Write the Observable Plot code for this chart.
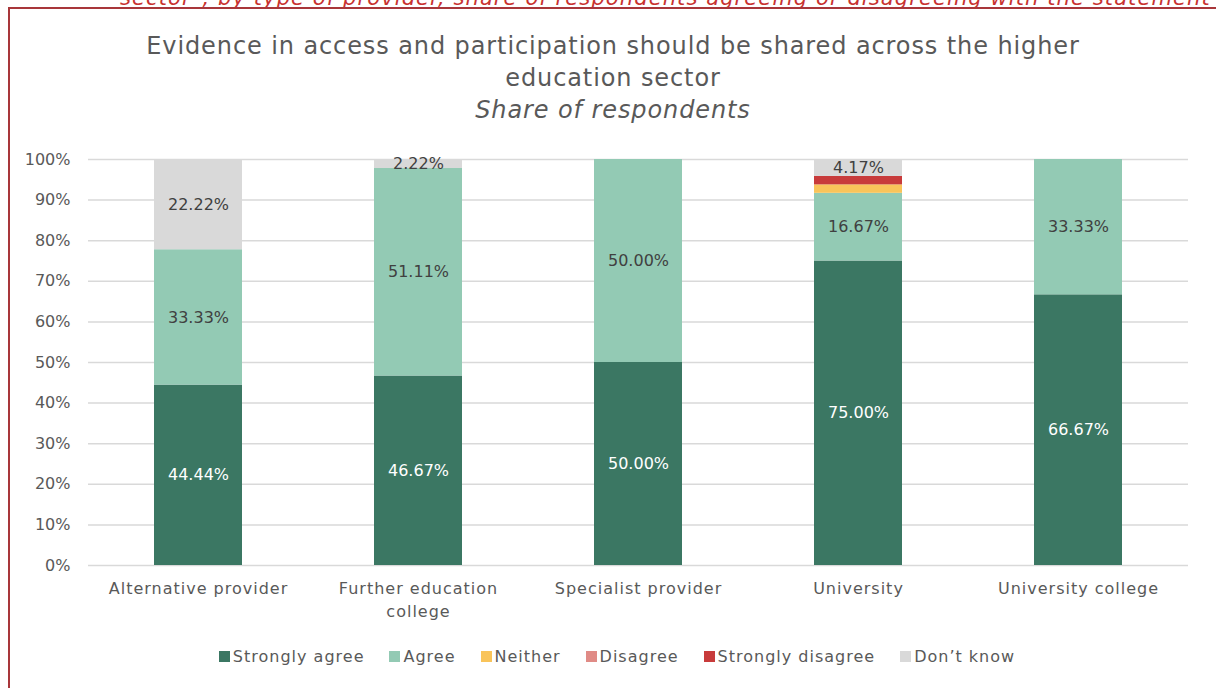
<!DOCTYPE html>
<html>
<head>
<meta charset="utf-8">
<script src="https://cdn.jsdelivr.net/npm/d3@7"></script>
<script src="https://cdn.jsdelivr.net/npm/@observablehq/plot@0.6"></script>
<style>
  html, body { margin: 0; padding: 0; background: #fff; }
  body { width: 1216px; height: 688px; position: relative; overflow: hidden; font-family: "DejaVu Sans", sans-serif; }
  #redtext { position: absolute; left: 120px; top: -14px; width: 1100px; white-space: nowrap; font-style: italic; font-size: 21px; letter-spacing: 1.1px; color: #c8322f; }
  #box { position: absolute; left: 8px; top: 7px; width: 1300px; height: 800px; border-left: 2px solid #a8363a; border-top: 2px solid #a8363a; }
  #title { position: absolute; left: 0; width: 1226px; top: 30px; text-align: center; color: #595959; font-size: 24px; letter-spacing: 0.9px; line-height: 32px; }
  #title .sub { font-style: italic; }
  #chart { position: absolute; left: 0; top: 140px; }
  #chart g[aria-label="x-axis tick label"] text { letter-spacing: 1px; }
  #legend { position: absolute; left: 0; width: 1234px; top: 647px; text-align: center; color: #595959; font-size: 16px; letter-spacing: 1px; white-space: nowrap; }
  #legend span.item { display: inline-block; margin: 0 12.5px; }
  #legend span.sw { display: inline-block; width: 11px; height: 11px; margin-right: 3px; vertical-align: 0px; }
</style>
</head>
<body>
<div id="redtext">sector", by type of provider, share of respondents agreeing or disagreeing with the statement</div>
<div id="box"></div>
<div id="title">Evidence in access and participation should be shared across the higher<br>education sector<br><span class="sub">Share of respondents</span></div>
<div id="chart"></div>
<div id="legend"></div>
<script>
const categories = ["Alternative provider", "Further education college", "Specialist provider", "University", "University college"];
const tickLabels = ["Alternative provider", "Further education\ncollege", "Specialist provider", "University", "University college"];
const seriesNames = ["Strongly agree", "Agree", "Neither", "Disagree", "Strongly disagree", "Don\u2019t know"];
const seriesColors = ["#3b7763", "#93cab4", "#f9c45a", "#e08b86", "#c83b3b", "#d9d9d9"];
const stronglyAgree = [44.44, 46.67, 50.00, 75.00, 66.67];
const agree = [33.33, 51.11, 50.00, 16.67, 33.33];
const neither = [0, 0, 0, 2.08, 0];
const disagree = [0, 0, 0, 0, 0];
const stronglyDisagree = [0, 0, 0, 2.08, 0];
const dontKnow = [22.22, 2.22, 0, 4.17, 0];
const yTicks = [0, 10, 20, 30, 40, 50, 60, 70, 80, 90, 100];

const seriesValues = [stronglyAgree, agree, neither, disagree, stronglyDisagree, dontKnow];
const labelled = new Set(["Strongly agree", "Agree", "Don\u2019t know"]);
const data = [];
seriesNames.forEach((s, si) => {
  categories.forEach((c, ci) => {
    data.push({category: c, series: s, value: seriesValues[si][ci]});
  });
});
const tickMap = new Map(categories.map((c, i) => [c, tickLabels[i]]));

const chart = Plot.plot({
  width: 1216,
  height: 485,
  marginLeft: 88,
  marginRight: 28,
  marginTop: 19,
  marginBottom: 60,
  style: {fontFamily: "DejaVu Sans, sans-serif", fontSize: "16px", color: "#595959", background: "transparent"},
  x: {domain: categories, paddingInner: 0.6, paddingOuter: 0.3, label: null},
  y: {domain: [0, 100], label: null},
  color: {domain: seriesNames, range: seriesColors},
  marks: [
    Plot.ruleY(yTicks, {stroke: "#d9d9d9", strokeWidth: 1.5}),
    Plot.barY(data, Plot.stackY({x: "category", y: "value", fill: "series", order: seriesNames})),
    Plot.text(data, Plot.stackY({
      x: "category", y: "value", z: "series", order: seriesNames,
      text: d => (labelled.has(d.series) && d.value > 0) ? d.value.toFixed(2) + "%" : "",
      fill: d => d.series === "Strongly agree" ? "#ffffff" : "#404040",
      fontSize: 16
    })),
    Plot.axisY({ticks: yTicks, tickSize: 0, tickPadding: 18, tickFormat: d => d + "%", fontSize: 16, color: "#595959"}),
    Plot.axisX({tickSize: 0, tickPadding: 12, tickFormat: d => tickMap.get(d), fontSize: 16, lineHeight: 1.45, color: "#595959"})
  ]
});
document.getElementById("chart").appendChild(chart);

const legend = document.getElementById("legend");
seriesNames.forEach((s, i) => {
  const item = document.createElement("span");
  item.className = "item";
  const sw = document.createElement("span");
  sw.className = "sw";
  sw.style.background = seriesColors[i];
  item.appendChild(sw);
  item.appendChild(document.createTextNode(s));
  legend.appendChild(item);
});
</script>
</body>
</html>
